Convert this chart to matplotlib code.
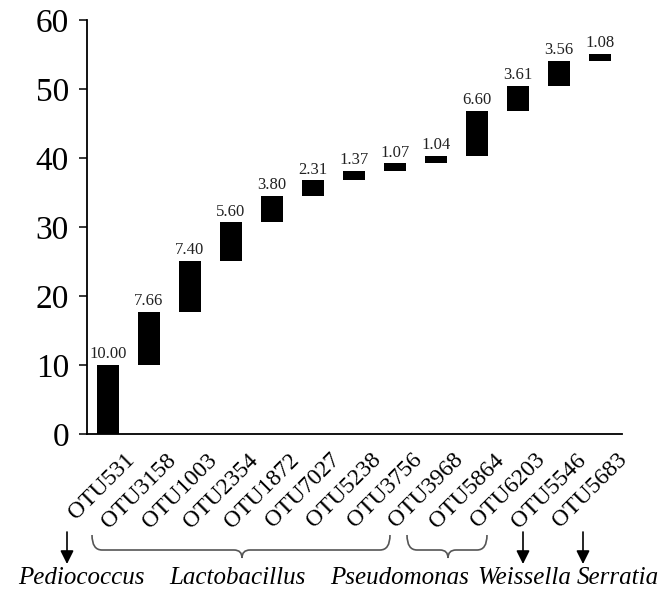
import matplotlib
matplotlib.use('Agg')
import matplotlib.pyplot as plt
from matplotlib.path import Path
from matplotlib.patches import PathPatch, FancyArrowPatch
from matplotlib.transforms import Affine2D, ScaledTranslation
import numpy as np

otus = ['OTU531', 'OTU3158', 'OTU1003', 'OTU2354', 'OTU1872', 'OTU7027', 'OTU5238',
        'OTU3756', 'OTU3968', 'OTU5864', 'OTU6203', 'OTU5546', 'OTU5683']
values = [10.00, 7.66, 7.40, 5.60, 3.80, 2.31, 1.37, 1.07, 1.04, 6.60, 3.61, 3.56, 1.08]
genera = ['Pediococcus', 'Lactobacillus', 'Pseudomonas', 'Weissella', 'Serratia']

plt.rcParams['font.family'] = 'Liberation Serif'

W, H = 670, 603
fig = plt.figure(figsize=[6.7, 6.03], dpi=100)
ax = fig.add_axes([87 / W, 1 - 434 / H, (622 - 87) / W, (434 - 20) / H])

x = np.arange(len(values))
bottoms = np.concatenate([[0], np.cumsum(values)[:-1]])
ax.bar(x, values, bottom=bottoms, width=0.54, color='black')
for xi, b, v in zip(x, bottoms, values):
    ax.annotate('%.2f' % v, (xi, b + v), xytext=(0, 2), textcoords='offset points',
                ha='center', va='bottom', fontsize=12, color='#222222')

ax.set_xlim(-0.51, 12.54)
ax.set_ylim(0, 60)
ax.set_yticks(range(0, 61, 10))
ax.tick_params(axis='y', labelsize=24, length=6, width=1.1, pad=7)
ax.tick_params(axis='x', length=0, labelsize=17)
ax.set_xticks(x)
ax.set_xticklabels(otus, rotation=45, ha='right', va='center', rotation_mode='anchor')
off = ScaledTranslation(0.24, -0.18, fig.dpi_scale_trans)
for lab in ax.get_xticklabels():
    lab.set_transform(lab.get_transform() + off)

for s in ['top', 'right']:
    ax.spines[s].set_visible(False)
for s in ['left', 'bottom']:
    ax.spines[s].set_linewidth(1.3)

# pixel coords (origin top-left) -> figure
px = Affine2D().scale(1 / W, -1 / H).translate(0, 1) + fig.transFigure


def brace(x0, x1, xc, ytop=535, yline=550, ytip=558):
    verts = [(x0, ytop), (x0, yline), (x0 + 10, yline),
             (xc - 8, yline), (xc, yline), (xc, ytip),
             (xc, yline), (xc + 8, yline),
             (x1 - 10, yline), (x1, yline), (x1, ytop)]
    codes = [Path.MOVETO, Path.CURVE3, Path.CURVE3,
             Path.LINETO, Path.CURVE3, Path.CURVE3,
             Path.CURVE3, Path.CURVE3,
             Path.LINETO, Path.CURVE3, Path.CURVE3]
    fig.add_artist(PathPatch(Path(verts, codes), transform=px, fill=False,
                             edgecolor='#555555', lw=1.2))


def arrow(xp):
    fig.add_artist(FancyArrowPatch((xp, 532), (xp, 564), transform=px,
                                   arrowstyle='-|>', mutation_scale=20,
                                   color='black', lw=1.2, shrinkA=0, shrinkB=0))


arrow(67)
brace(92, 390, 242)
brace(407, 487, 448)
arrow(523)
arrow(583)

gx = [81, 237, 400, 524, 618]
for g, gxp in zip(genera, gx):
    fig.text(gxp, 578, g, transform=px, ha='center', va='center',
             fontsize=18, style='italic')

plt.savefig('out.png', dpi=100)
